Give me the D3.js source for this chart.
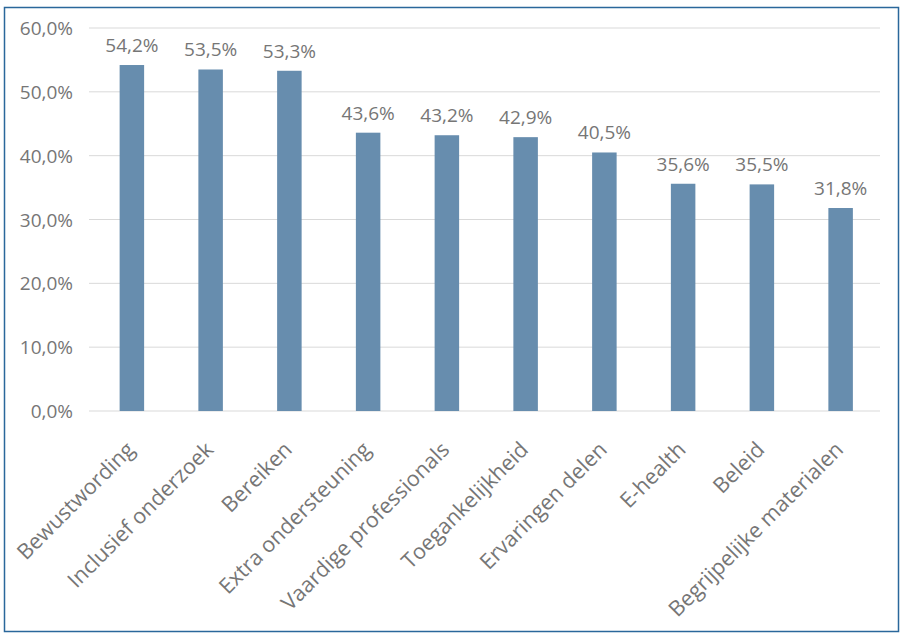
<!DOCTYPE html>
<html><head><meta charset="utf-8">
<script src="https://cdn.jsdelivr.net/npm/d3@7/dist/d3.min.js"></script>
<style>body{margin:0;background:#fff;} svg{display:block;}</style>
</head><body>
<svg id="chart" width="905" height="642"></svg>
<script>
const categories = ["Bewustwording","Inclusief onderzoek","Bereiken","Extra ondersteuning","Vaardige professionals","Toegankelijkheid","Ervaringen delen","E-health","Beleid","Begrijpelijke materialen"];
const values = [54.2,53.5,53.3,43.6,43.2,42.9,40.5,35.6,35.5,31.8];
const yTicks = [0,10,20,30,40,50,60];

const svg = d3.select("#chart");
const font = "'Open Sans', sans-serif";
const textColor = "#767676";
const fmt = v => d3.format(".1f")(v).replace(".", ",") + "%";

svg.append("rect").attr("x",4.5).attr("y",7.5).attr("width",894).attr("height",624)
  .attr("fill","#fff").attr("stroke","#2a679b").attr("stroke-width",1.5);

const x = d3.scaleBand().domain(categories).range([92.5, 880]).padding(0);
const y = d3.scaleLinear().domain([0,60]).range([411, 28]);

// gridlines
svg.append("g").selectAll("line").data(yTicks).join("line")
  .attr("x1",89).attr("x2",880)
  .attr("y1",d=>y(d)).attr("y2",d=>y(d))
  .attr("stroke","#d9d9d9").attr("stroke-width",1);

// y axis labels
const yAxis = d3.axisLeft(y).tickValues(yTicks).tickFormat(fmt).tickSize(0).tickPadding(0);
const yg = svg.append("g").attr("transform","translate(73,0)").call(yAxis);
yg.select(".domain").remove();
yg.selectAll("text").attr("font-family",font).attr("font-size","19px").attr("fill",textColor).attr("dy","0.35em");

const bw = 24.5;
svg.append("g").selectAll("rect").data(values).join("rect")
  .attr("x",(d,i)=>x(categories[i]) + x.bandwidth()/2 - bw/2)
  .attr("width",bw)
  .attr("y",d=>y(d)).attr("height",d=>y(0)-y(d))
  .attr("fill","#678dae");

// data labels
svg.append("g").selectAll("text").data(values).join("text")
  .attr("x",(d,i)=>x(categories[i]) + x.bandwidth()/2)
  .attr("y",d=>y(d)-13)
  .attr("text-anchor","middle")
  .attr("font-family",font).attr("font-size","19px").attr("fill",textColor)
  .text(fmt);

// x labels
const xAxis = d3.axisBottom(x).tickSize(0).tickPadding(0);
const xg = svg.append("g").attr("transform","translate(0,411)").call(xAxis);
xg.select(".domain").remove();
xg.selectAll("text")
  .attr("font-family",font).attr("font-size","21.5px").attr("fill",textColor)
  .attr("text-anchor","end").attr("dy",null).attr("y",0)
  .attr("transform","translate(4,40) rotate(-45)");
</script>
</body></html>
